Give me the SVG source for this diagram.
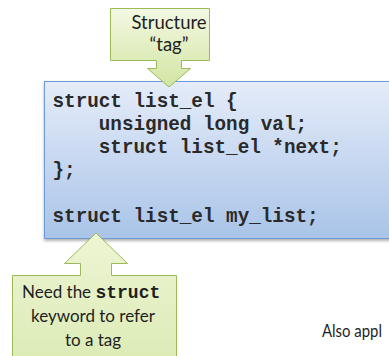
<svg xmlns="http://www.w3.org/2000/svg" width="389" height="356" viewBox="0 0 389 356">
  <defs>
    <linearGradient id="codeFill" x1="0" y1="0" x2="0" y2="1">
      <stop offset="0" stop-color="#e5ecf9"/>
      <stop offset="1" stop-color="#a9c4e8"/>
    </linearGradient>
    <linearGradient id="calloutFill" x1="0" y1="0" x2="0" y2="1">
      <stop offset="0" stop-color="#f3f8e3"/>
      <stop offset="1" stop-color="#d2e5a2"/>
    </linearGradient>
    <linearGradient id="calloutFillUp" x1="0" y1="0" x2="0" y2="1">
      <stop offset="0" stop-color="#eef5d4"/>
      <stop offset="1" stop-color="#dcebb6"/>
    </linearGradient>
    <filter id="shadow" x="-5%" y="-5%" width="110%" height="115%">
      <feDropShadow dx="0" dy="2" stdDeviation="1.5" flood-color="#000" flood-opacity="0.3"/>
    </filter>
    <style>
      .code { font-family: "Liberation Mono", "Courier New", monospace; font-weight: bold; font-size: 19.3px; fill: #2a2a2a; white-space: pre; }
      .label { font-family: Lato, "Open Sans", sans-serif; font-size: 17px; fill: #1e1e1e; }
      .big { font-size: 18.5px; }
      .kw { font-family: "Liberation Mono", "Courier New", monospace; font-weight: bold; font-size: 18px; }
      .callout { stroke: #9bbb59; stroke-width: 1; }
    </style>
  </defs>

  <!-- code panel with the struct declaration -->
  <g id="code-panel">
    <rect x="44.5" y="81.5" width="360" height="157" fill="url(#codeFill)" stroke="#6e9bd6" stroke-width="1" filter="url(#shadow)"/>
    <text class="code" x="52.5" y="107">struct list_el {</text>
    <text class="code" x="52.5" y="130">    unsigned long val;</text>
    <text class="code" x="52.5" y="153">    struct list_el *next;</text>
    <text class="code" x="52.5" y="176">};</text>
    <text class="code" x="52.5" y="222">struct list_el my_list;</text>
  </g>

  <!-- callout pointing down at the tag name -->
  <g id="tag-callout">
    <path class="callout" fill="url(#calloutFill)" d="M110.5,8.5 H209.5 V60.5 H181.5 V68.5 H190.5 L169,87 L147.5,68.5 H156.5 V60.5 H110.5 Z"/>
    <text class="label big" x="169" y="29" text-anchor="middle">Structure</text>
    <text class="label big" x="169" y="51" text-anchor="middle">“tag”</text>
  </g>

  <!-- callout pointing up at the struct keyword -->
  <g id="keyword-callout">
    <path class="callout" fill="url(#calloutFillUp)" d="M96,233 L127.5,263.5 H111.5 V275.5 H176.5 V360 H12.5 V275.5 H80.5 V263.5 H64.5 Z"/>
    <text class="label" x="22" y="298">Need the <tspan class="kw">struct</tspan></text>
    <text class="label" x="93" y="322" text-anchor="middle">keyword to refer</text>
    <text class="label" x="93" y="346" text-anchor="middle">to a tag</text>
  </g>

  <text id="note" class="label" x="322" y="337" textLength="60" lengthAdjust="spacingAndGlyphs">Also appl</text>
</svg>
